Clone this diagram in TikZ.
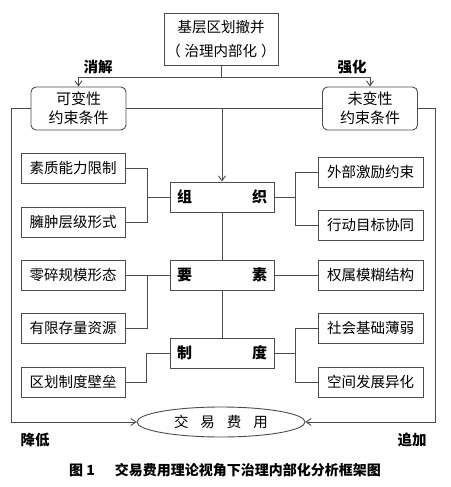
\documentclass[tikz,border=0pt]{standalone}
\usepackage{fontspec}
\setmainfont{Noto Sans CJK SC}
\usetikzlibrary{arrows.meta,shapes.geometric}

\tikzset{
  box/.style={draw=black!70,line width=0.9pt,minimum width=104pt,minimum height=30pt,inner sep=0pt,font=\fontsize{14.5}{16}\selectfont},
  midbox/.style={box,text width=90pt,font=\fontsize{15}{16}\selectfont\bfseries},
  condbox/.style={draw=black!70,line width=0.9pt,rounded corners=5pt,minimum width=95pt,minimum height=43pt,inner sep=0pt,align=center,font=\fontsize{15}{19}\selectfont},
  lab/.style={font=\fontsize{14.5}{16}\selectfont\bfseries},
}

\begin{document}
\begin{tikzpicture}[x=1pt,y=-1pt,>={Straight Barb[length=5pt,width=7pt]},line width=0.9pt,draw=black!70]
\useasboundingbox (0,0) rectangle (450,487);

% top box and the two conditions
\node [box,minimum width=114pt,minimum height=52pt,align=center,font=\fontsize{14.5}{24}\selectfont] (top) at (221,39) {基层区划撤并\\（\hspace{4pt}治理内部化\hspace{4pt}）};
\node [condbox] (lc) at (78.5,108.5) {可变性\\约束条件};
\node [condbox] (rc) at (370,108.5) {未变性\\约束条件};
\node [lab] (xj) at (98,67) {消解};
\node [lab] (qh) at (352,67) {强化};

% middle column
\node [midbox] (zz) at (222,197) {组\hfill 织};
\node [midbox] (ys) at (222,275) {要\hfill 素};
\node [midbox] (zd) at (222,353) {制\hfill 度};

% side boxes
\foreach \n/\y/\t in {1/168/素质能力限制,2/222/臃肿层级形式,3/275/零碎规模形态,4/328.5/有限存量资源,5/382/区划制度壁垒}{
\node [box] (l\n) at (73,\y) {\t};
}
\foreach \n/\y/\t in {1/172.5/外部激励约束,2/225/行动目标协同,3/275/权属模糊结构,4/328/社会基础薄弱,5/382/空间发展异化}{
\node [box,minimum width=105pt] (r\n) at (370.5,\y) {\t};
}

% bottom
\node [draw=black!70,line width=0.9pt,ellipse,minimum width=168pt,minimum height=30pt,inner sep=0pt,font=\fontsize{14.5}{16}\selectfont] (jy) at (221,422) {交\hspace{12pt}易\hspace{12pt}费\hspace{12pt}用};
\node [lab] (jd) at (35,440) {降低};
\node [lab] (zj) at (412,440) {追加};
\node [font=\fontsize{14}{16}\selectfont\bfseries] (cap) at (225,470) {图 1\hspace{20pt}交易费用理论视角下治理内部化分析框架图};

% connectors
\coordinate (j) at (top.south |- 0,77);
\draw (top.south) -- (j);
\draw[->] (j) -| (lc.north);
\draw[->] (j) -| (rc.north);
\draw (lc.east) -- (rc.west);
\draw[->] (lc.east -| zz.north) -- (zz.north);
\draw (zz) -- (ys);
\draw (ys) -- (zd);
\draw[->] (lc.west) -- ++(-19.5,0) |- (jy.west);
\draw[->] (rc.east) -- ++(17,0) |- (jy.east);

\draw (l1.east) -- ++(22,0) |- (l2.east);
\draw (zz.west) -- ++(-23,0);
\draw (r1.west) -- ++(-22,0) |- (r2.west);
\draw (zz.east) -- ++(22,0);

\draw (l3.east) -- (ys.west);
\draw (l4.east) -- ++(22,0) |- (ys.west);
\draw (ys.east) -- (r3.west);

\draw (zd.west) -- ++(-23,0) |- (l5.east);
\draw (r4.west) -- ++(-22,0) |- (r5.west);
\draw (zd.east) -- ++(22,0);

\end{tikzpicture}
\end{document}
